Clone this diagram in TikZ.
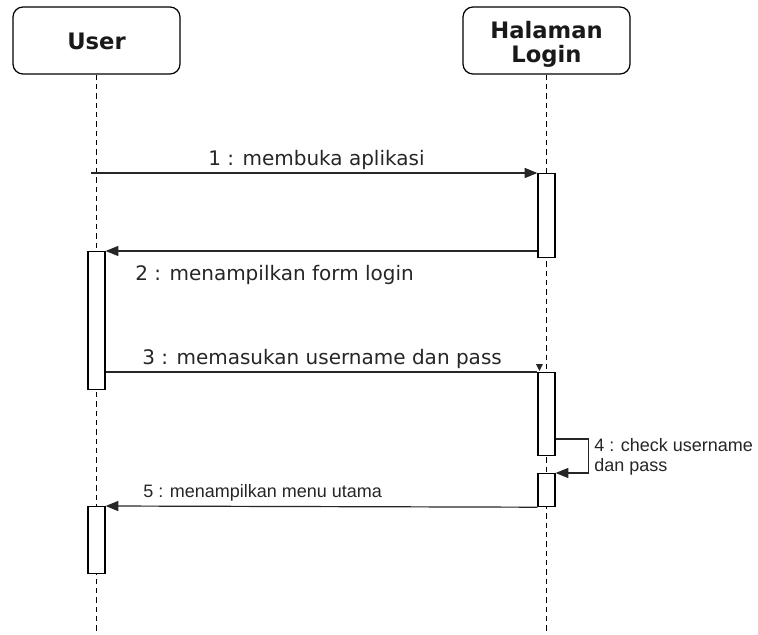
\documentclass[tikz,border=0pt]{standalone}
\usepackage{fontspec}
\newfontfamily\dv{DejaVu Sans}
\newfontfamily\lib{Liberation Sans}
\usetikzlibrary{arrows.meta,calc}
\begin{document}
\begin{tikzpicture}[x=0.75pt,y=-0.75pt,
  head/.style={draw=black, line width=0.9pt, rounded corners=7.5pt, minimum width=125.25pt, minimum height=50.25pt, fill=white, inner sep=0pt},
  htext/.style={font=\dv\bfseries\fontsize{17}{19}\selectfont, inner sep=0pt, anchor=base, text=black!90},
  life/.style={draw=black, line width=0.75pt, dash pattern=on 4pt off 3pt},
  act/.style={draw=black, line width=0.9pt, fill=white, minimum width=12.75pt, inner sep=0pt, anchor=north},
  msgline/.style={draw=black!85, line width=0.9pt},
  msg/.style={msgline, -{Triangle[length=9.5pt,width=7.5pt]}},
  lbl/.style={font=\dv\fontsize{15}{18}\selectfont, inner sep=0pt, anchor=base west, text=black!85},
  slbl/.style={font=\lib\fontsize{13.5}{15}\selectfont, inner sep=0pt, anchor=base west, text=black!85},
]
\useasboundingbox (0,0) rectangle (758,635);

% headers
\node[head] (user) at (96.5,40.5) {};
\node[head] (login) at (546.5,40.5) {};
\node[htext] (usert) at (96.5,50) {User};
\node[htext] (logint1) at (546.5,38.5) {Halaman};
\node[htext] (logint2) at (546.5,63) {Login};

% lifelines
\coordinate (userend) at (96.5,635);
\coordinate (loginend) at (546.5,635);
\draw[life] (user.south) -- (userend);
\draw[life] (login.south) -- (loginend);

% activations
\node[act, minimum height=63pt] (a1) at (546.5,173) {};
\node[act, minimum height=103.5pt] (u1) at (96.5,251) {};
\node[act, minimum height=62.25pt] (a2) at (546.5,372) {};
\node[act, minimum height=24.75pt] (a3) at (546.5,473) {};
\node[act, minimum height=50.25pt] (u2) at (96.5,506) {};

% messages
\coordinate (m1s) at (91,173);
\draw[msg] (m1s) -- (a1.north west);
\draw[msg] (a1.west |- u1.north) -- (u1.north east);
\draw[msgline] (u1.east |- a2.north) -- (a2.north west);
\fill[black!85] ($(a2.north west)+(-1.5,-8)$) -- ++(7,0) -- ++(-3.5,7) -- cycle;
\draw[msg] ($(a2.north east)+(0,67)$) -- ++(33,0) |- (a3.north east);
\draw[msg] (a3.south west) -- (u2.north east);

% labels
\node[lbl] (t1) at (208,166) {1 : membuka aplikasi};
\node[lbl] (t2) at (135,280) {2 : menampilkan form login};
\node[lbl] (t3) at (142,364) {3 : memasukan username dan pass};
\node[slbl] (t4a) at (594,451) {4 : check username};
\node[slbl] (t4b) at (594,471) {dan pass};
\node[slbl] (t5) at (143,497) {5 : menampilkan menu utama};
\end{tikzpicture}
\end{document}
